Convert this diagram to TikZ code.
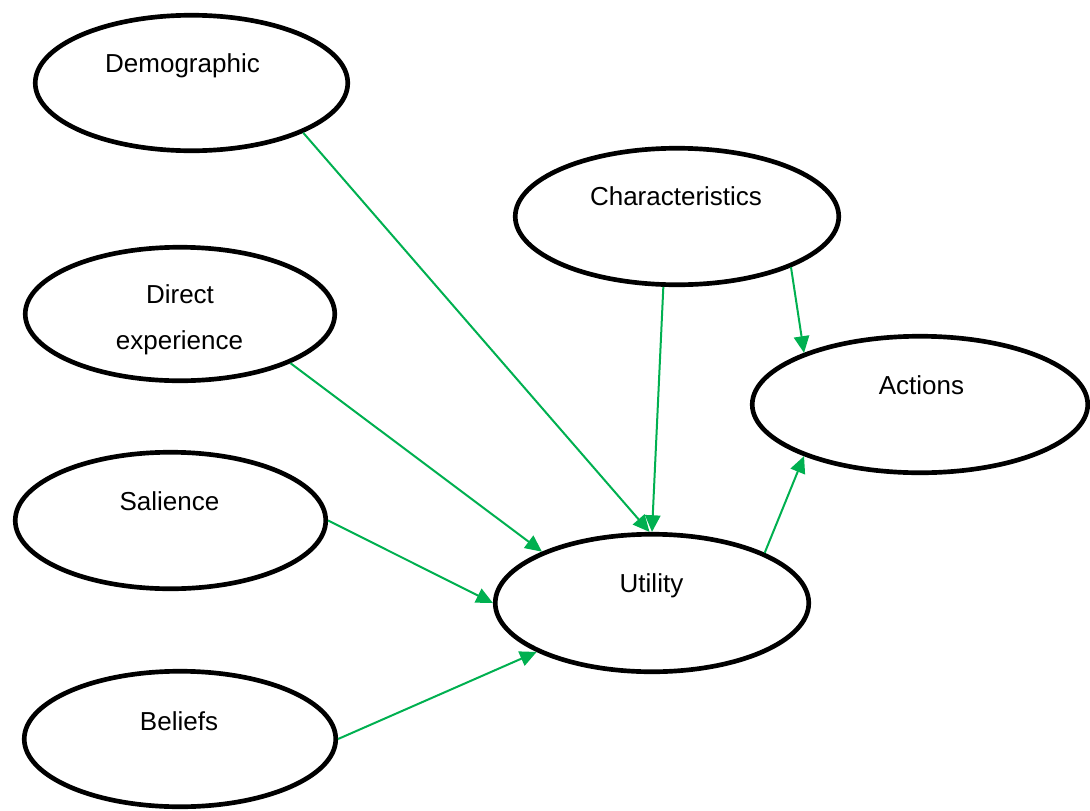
\documentclass[tikz,border=0pt]{standalone}
\usepackage{fontspec}
\setmainfont{Liberation Sans}
\usetikzlibrary{shapes.geometric,arrows.meta}
\definecolor{linkgreen}{RGB}{0,176,80}

\begin{document}
\begin{tikzpicture}[x=0.75pt,y=-0.75pt,
  oval/.style 2 args={draw=black, line width=3.5pt, ellipse, inner sep=0pt,
    fill=white, minimum width={#1*0.75pt}, minimum height={#2*0.75pt}},
  lbl/.style={anchor=base, inner sep=0pt, font=\fontsize{19.5}{23}\selectfont},
  link/.style={draw=linkgreen, line width=1.5pt,
    -{Triangle[length=12.5pt,width=11.5pt]}}]
\useasboundingbox (0,0) rectangle (1090,811);

% ovals
\node[oval={312.5}{135.5}] (demo)   at (191.5,83)  {};
\node[oval={323.5}{136.5}] (char)   at (677,216.5) {};
\node[oval={309.5}{133.5}] (direct) at (180,314)   {};
\node[oval={335.5}{136.5}] (act)    at (920,404.5) {};
\node[oval={310.5}{136.5}] (sal)    at (170.5,520.5) {};
\node[oval={313.5}{137.5}] (util)   at (652,603)   {};
\node[oval={311.5}{135.5}] (bel)    at (180,739)   {};

% labels
\node[lbl] (demo-t)   at (182.5,72)  {Demographic};
\node[lbl] (char-t)   at (676,205.5) {Characteristics};
\node[lbl] (direct-t) at (180,303)   {Direct};
\node[lbl] (direct-u) at (179.5,349) {experience};
\node[lbl] (act-t)    at (921.5,394) {Actions};
\node[lbl] (sal-t)    at (169.5,510) {Salience};
\node[lbl] (util-t)   at (651.5,592) {Utility};
\node[lbl] (bel-t)    at (179,730)   {Beliefs};

% influences
\draw[link] (demo.-24.2)   -- (util.92.4);
\draw[link] (char.-101.2)  -- (util.90);
\draw[link] (char.-24.3)   -- (act.156.2);
\draw[link] (direct.-24.9) -- (util.155.5);
\draw[link] (sal.0)        -- (util.180);
\draw[link] (bel.0)        -- (util.203.6);
\draw[link] (util.24.4)    -- (act.204.4);
\end{tikzpicture}
\end{document}
